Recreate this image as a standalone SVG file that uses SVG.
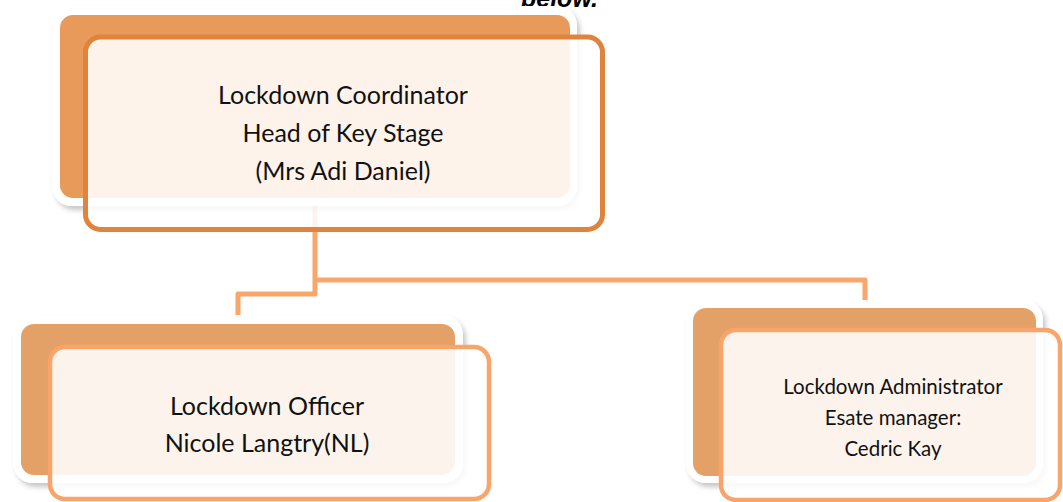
<svg xmlns="http://www.w3.org/2000/svg" width="1063" height="502" viewBox="0 0 1063 502">
<defs>
<filter id="sh" x="-10%" y="-10%" width="130%" height="130%">
<feDropShadow dx="3" dy="4" stdDeviation="2.5" flood-color="#000" flood-opacity="0.22"/>
</filter>
<style>
.bw{fill:#ffffff;filter:url(#sh)}
.o1{fill:#E89A5B}
.o2{fill:#E3A067}
.f1{fill:#ffffff;fill-opacity:0.88;stroke:#E0843D;stroke-width:5}
.f2{fill:#ffffff;fill-opacity:0.88;stroke:#F8A46A;stroke-width:4.5}
.t{font-family:Lato,"Open Sans","Liberation Sans",sans-serif;fill:#111;text-anchor:middle}
.c{fill:none;stroke:#F9A66C;stroke-width:5;stroke-linejoin:round}
</style>
</defs>
<rect width="1063" height="502" fill="#ffffff"/>
<text x="521" y="7" font-family="'Liberation Sans',Arial,sans-serif" font-weight="bold" font-style="italic" font-size="25" fill="#000">below.</text>
<g id="connectors">
<path class="c" d="M315,205 V294 H238 V318"/>
<path class="c" d="M315,280 H865 V303"/>
</g>
<g id="node-coordinator">
<rect class="bw" x="52" y="6" width="525" height="200" rx="20"/>
<rect class="o1" x="60" y="15" width="510" height="183" rx="13"/>
<rect class="f1" x="85.5" y="37" width="517" height="192.5" rx="15"/>
<text class="t" font-size="25" x="343" y="104">Lockdown Coordinator</text>
<text class="t" font-size="25" x="343" y="142">Head of Key Stage</text>
<text class="t" font-size="25" x="343" y="180">(Mrs Adi Daniel)</text>
</g>
<g id="node-officer">
<rect class="bw" x="13" y="315" width="450" height="168" rx="20"/>
<rect class="o2" x="21" y="324" width="434" height="151" rx="13"/>
<rect class="f2" x="50" y="347" width="439" height="152" rx="15"/>
<text class="t" font-size="25" x="267" y="415">Lockdown Officer</text>
<text class="t" font-size="25" x="267" y="452">Nicole Langtry(NL)</text>
</g>
<g id="node-administrator">
<rect class="bw" x="686" y="300" width="357" height="183" rx="20"/>
<rect class="o2" x="693" y="308" width="343" height="168" rx="13"/>
<rect class="f2" x="721" y="330" width="339" height="170" rx="15"/>
<text class="t" font-size="20.5" x="893" y="394">Lockdown Administrator</text>
<text class="t" font-size="20.5" x="893" y="425">Esate manager:</text>
<text class="t" font-size="20.5" x="893" y="456">Cedric Kay</text>
</g>
</svg>
